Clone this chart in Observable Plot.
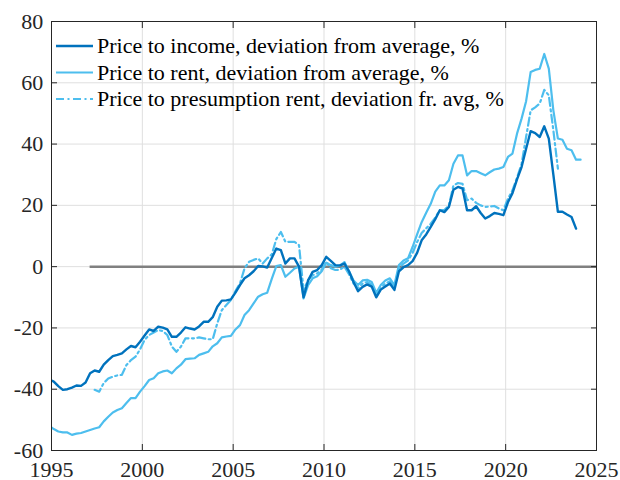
<!DOCTYPE html>
<html>
<head>
<meta charset="utf-8">
<script src="https://cdn.jsdelivr.net/npm/d3@7"></script>
<script src="https://cdn.jsdelivr.net/npm/@observablehq/plot@0.6"></script>
<style>
  body { margin: 0; background: #fff; }
  #chart { position: relative; width: 620px; height: 480px; font-family: 'Liberation Serif'; }
  #chart svg text { font-family: 'Liberation Serif' !important; }
  #legend { position: absolute; left: 0; top: 0; pointer-events: none; }
</style>
</head>
<body>
<div id="chart"></div>
<script>
// ---- Data (quarterly, % deviation from average) ----
const seriesNames = [
  "Price to income, deviation from average, %",
  "Price to rent, deviation from average, %",
  "Price to presumption rent, deviation fr. avg, %"
];
const incomeStart = [1994, 4];
const incomeValues = [
  -36.8,
  -37.5, -39.0, -40.2, -40.0,
  -39.5, -38.8, -38.9, -37.8,
  -34.8, -33.9, -34.3, -32.0,
  -30.5, -29.2, -28.8, -28.3,
  -27.0, -25.9, -26.3, -24.5,
  -22.5, -20.5, -21.0, -19.6,
  -19.9, -20.5, -22.9, -22.9,
  -21.5, -19.8, -20.2, -20.5,
  -19.5, -18.0, -18.0, -16.5,
  -13.1, -11.1, -11.0, -10.7,
  -8.5, -6.0, -3.8, -2.8,
  -1.5, 0.2, 0.1, -0.3,
  2.8, 5.9, 5.4, 1.0,
  2.7, 2.7, 0.0, -10.0,
  -4.5, -1.7, -1.1, 0.5,
  3.2, 1.9, 0.5, 0.4,
  1.0, -1.5, -5.0, -8.0,
  -6.6, -5.8, -6.5, -10.0,
  -7.5, -6.5, -5.5, -7.6,
  -1.5, -0.2, 0.5, 1.8,
  4.5, 8.6, 10.5, 13.0,
  15.5, 18.4, 17.8, 19.5,
  25.1, 26.0, 25.5, 18.4,
  18.4, 19.7, 17.5, 15.7,
  16.5, 17.5, 17.2, 16.8,
  21.0, 24.0, 28.5, 32.5,
  38.5, 44.2, 43.6, 42.3,
  45.8, 41.8, 30.0, 17.9,
  17.9, 17.0, 16.2, 12.4
];
const rentStart = [1994, 4];
const rentValues = [
  -52.0,
  -53.0, -53.8, -54.1, -54.1,
  -54.9, -54.5, -54.3, -53.8,
  -53.3, -52.8, -52.4, -50.5,
  -49.0, -47.6, -46.8, -46.2,
  -44.5, -42.9, -42.9, -40.8,
  -39.0, -37.0, -36.4, -34.8,
  -34.2, -33.9, -34.8, -33.2,
  -32.0, -30.2, -30.0, -29.9,
  -28.8, -28.3, -27.8, -26.0,
  -25.0, -23.1, -22.8, -22.6,
  -20.5, -19.1, -15.8, -14.2,
  -12.0, -9.8, -9.0, -8.5,
  -4.0, 0.2, 0.5, -3.3,
  -2.0, -0.6, 0.0, -10.4,
  -6.0, -3.8, -3.1, -1.5,
  1.3, 0.5, 0.0, 0.3,
  1.5, -1.5, -4.5, -6.0,
  -4.5, -4.3, -5.0, -8.5,
  -6.0, -4.5, -3.8, -6.0,
  0.5, 2.0, 2.7, 6.4,
  10.5, 14.5, 17.6, 20.5,
  24.5, 26.5, 26.5, 28.2,
  33.6, 36.3, 36.3, 29.8,
  31.2, 31.2, 30.5, 29.8,
  30.8, 31.7, 32.0, 32.5,
  35.8, 36.9, 43.4, 48.3,
  54.0, 63.5, 64.2, 64.6,
  69.4, 64.6, 51.0, 41.8,
  41.4, 38.5, 38.0, 34.9,
  34.9
];
const presumptionStart = [1997, 2];
const presumptionValues = [
  -40.2, -40.8, -38.0,
  -36.5, -35.9, -35.5, -35.3,
  -32.1, -30.5, -29.4, -27.0,
  -23.9, -22.3, -21.5, -20.7,
  -21.0, -22.3, -26.1, -27.8,
  -26.1, -23.4, -23.4, -23.4,
  -23.1, -23.4, -23.7, -23.7,
  -18.5, -14.2, -12.5, -10.9,
  -8.0, -5.5, -0.6, 1.6,
  2.2, 2.7, 1.0, 2.7,
  4.0, 9.0, 11.3, 8.1,
  8.1, 8.1, 7.0, -7.7,
  -4.4, -2.8, -2.2, -1.0,
  1.6, -0.5, -1.1, -1.0,
  0.0, -2.5, -5.5, -7.0,
  -5.5, -5.0, -5.8, -9.0,
  -7.0, -5.5, -4.8, -6.8,
  -0.5, 1.0, 2.0, 4.5,
  8.0, 11.0, 12.5, 14.0,
  16.0, 18.4, 18.5, 20.0,
  26.5, 27.3, 27.0, 21.7,
  22.2, 20.8, 20.0, 19.5,
  19.6, 19.8, 19.0, 18.4,
  22.2, 24.9, 29.0, 33.5,
  42.3, 51.0, 52.0, 53.2,
  57.7, 55.9, 44.5, 32.0
];
const zeroLine = [{ y: 0, x1: 1997.125, x2: 2025 }];
const xTicks = [1995, 2000, 2005, 2010, 2015, 2020, 2025];
const yTicks = [-60, -40, -20, 0, 20, 40, 60, 80];
const colors = ["#0072BD", "#4DBEEE", "#4DBEEE"];

// quarter -> decimal year (mid-quarter)
function rows(values, [y0, q0]) {
  return values.map((v, i) => {
    const k = (q0 - 1) + i;
    return { t: y0 + Math.floor(k / 4) + (k % 4) / 4 + 0.125, v };
  });
}
const income = rows(incomeValues, incomeStart);
const rent = rows(rentValues, rentStart);
const presumption = rows(presumptionValues, presumptionStart);

const fmt = d => String(d);
const blank = () => "";
const fontName = "Liberation Serif";

const plot = Plot.plot({
  width: 620,
  height: 480,
  marginLeft: 51,
  marginRight: 24,
  marginTop: 21,
  marginBottom: 30,
  style: { fontFamily: fontName, fontSize: "22px", color: "#262626", background: "#fff", overflow: "visible" },
  x: { domain: [1995, 2025], axis: null, label: null },
  y: { domain: [-60, 80], axis: null, label: null },
  marks: [
    Plot.gridX(xTicks, { stroke: "#dfdfdf", strokeOpacity: 1 }),
    Plot.gridY(yTicks, { stroke: "#dfdfdf", strokeOpacity: 1 }),
    Plot.ruleY(zeroLine, { y: "y", x1: "x1", x2: "x2", stroke: "#808080", strokeWidth: 2.5 }),
    Plot.line(rent, { x: "t", y: "v", stroke: colors[1], strokeWidth: 2.2, clip: true }),
    Plot.line(presumption, { x: "t", y: "v", stroke: colors[2], strokeWidth: 2.2, strokeDasharray: "8,3.5,2,3.5", clip: true }),
    Plot.line(income, { x: "t", y: "v", stroke: colors[0], strokeWidth: 2.4, clip: true }),
    Plot.frame({ stroke: "#262626", strokeWidth: 1 }),
    Plot.axisX(xTicks, { anchor: "bottom", tickSize: -6, tickPadding: 16.4, tickFormat: fmt, label: null, fill: "#262626", fontFamily: fontName }),
    Plot.axisX(xTicks, { anchor: "top", tickSize: -6, tickFormat: blank, label: null }),
    Plot.axisY(yTicks, { anchor: "left", tickSize: -6, tickPadding: 14.3, tickFormat: fmt, label: null, fill: "#262626", fontFamily: fontName }),
    Plot.axisY(yTicks, { anchor: "right", tickSize: -6, tickFormat: blank, label: null })
  ]
});

const chart = document.getElementById("chart");
chart.appendChild(plot);

// Legend (inside the axes, top-left, no box)
const legendRows = [
  { name: seriesNames[0], color: colors[0], dash: null, w: 2.4 },
  { name: seriesNames[1], color: colors[1], dash: null, w: 2.2 },
  { name: seriesNames[2], color: colors[2], dash: "8,3.5,2,3.5", w: 2.2 }
];
const svg = d3.select(chart).append("svg")
  .attr("id", "legend").attr("width", 620).attr("height", 480);
const g = svg.selectAll("g").data(legendRows).join("g")
  .attr("transform", (d, i) => `translate(0,${46 + i * 26.5})`);
g.append("line").attr("x1", 56).attr("x2", 93).attr("y1", 0).attr("y2", 0)
  .attr("stroke", d => d.color).attr("stroke-width", d => d.w)
  .attr("stroke-dasharray", d => d.dash);
g.append("text").attr("x", 97).attr("y", 0).attr("dy", "0.33em")
  .attr("font-family", fontName).attr("font-size", 22)
  .attr("fill", "#000").text(d => d.name);
</script>
</body>
</html>
